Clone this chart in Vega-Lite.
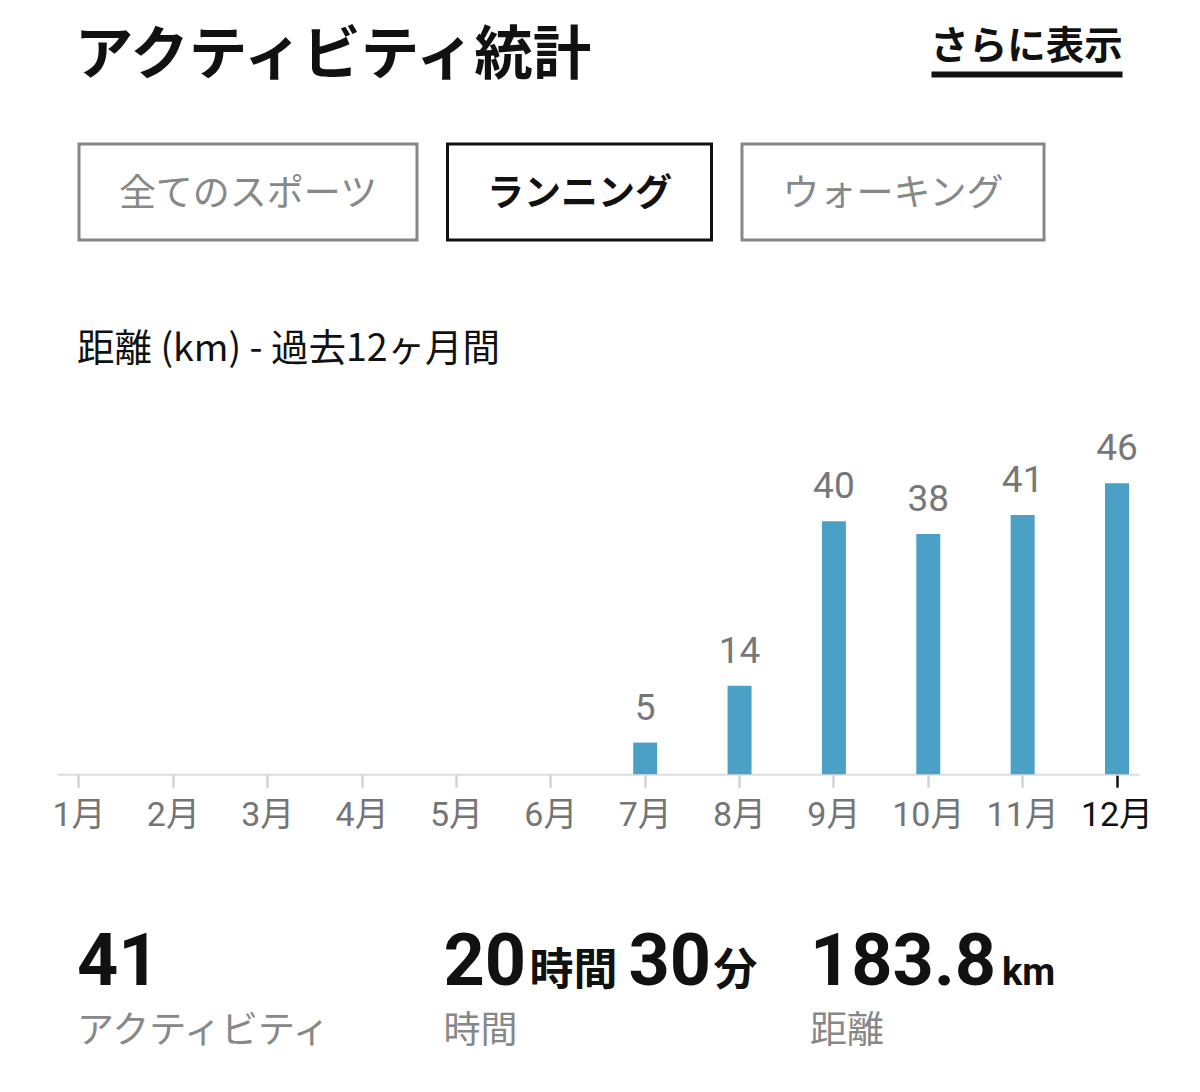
{
  "$schema": "https://vega.github.io/schema/vega-lite/v6.json",
  "background": "white",
  "padding": {"left": 51, "top": 0, "right": 0, "bottom": 30},
  "config": {"view": {"stroke": null}, "font": "Noto Sans CJK JP"},
  "spacing": 88.2,
  "vconcat": [
    {
      "spacing": 31,
      "vconcat": [
        {
          "bounds": "flush",
          "spacing": 322,
          "hconcat": [
            {
              "width": 552,
              "height": 111,
              "data": {"values": [{"label": "アクティビティ統計"}]},
              "mark": {"type": "text", "font": "Noto Sans CJK JP", "fontSize": 58.5, "fontWeight": "bold", "color": "#111111", "baseline": "middle"},
              "encoding": {"text": {"field": "label"}}
            },
            {
              "width": 191,
              "height": 74,
              "data": {"values": [{"label": "さらに表示"}]},
              "mark": {"type": "text", "font": "Noto Sans CJK JP", "fontSize": 38.5, "fontWeight": "bold", "color": "#111111", "baseline": "alphabetic", "dy": 22},
              "encoding": {
                "x": {
                  "field": "label",
                  "type": "nominal",
                  "scale": {"type": "band", "paddingInner": 0, "paddingOuter": 0},
                  "axis": {"title": null, "labels": false, "ticks": false, "grid": false, "domain": true, "domainColor": "#111111", "domainWidth": 6}
                },
                "text": {"field": "label"}
              }
            }
          ]
        },
        {
          "spacing": 19,
          "hconcat": [
            {
              "width": 1,
              "height": 96,
              "data": {"values": [{"label": ""}]},
              "mark": {"type": "text"},
              "encoding": {"text": {"field": "label"}}
            },
            {
              "bounds": "flush",
              "spacing": 30.5,
              "hconcat": [
                {
                  "width": 338,
                  "height": 96,
                  "view": {"stroke": "#878787", "strokeWidth": 3},
                  "data": {"values": [{"label": "全てのスポーツ"}]},
                  "mark": {"type": "text", "font": "Noto Sans CJK JP", "fontSize": 37, "color": "#888888", "baseline": "middle", "dy": 3},
                  "encoding": {"text": {"field": "label"}}
                },
                {
                  "width": 264,
                  "height": 96,
                  "view": {"stroke": "#111111", "strokeWidth": 3},
                  "data": {"values": [{"label": "ランニング"}]},
                  "mark": {"type": "text", "font": "Noto Sans CJK JP", "fontSize": 37, "fontWeight": "bold", "color": "#111111", "baseline": "middle", "dy": 3},
                  "encoding": {"text": {"field": "label"}}
                },
                {
                  "width": 302,
                  "height": 96,
                  "view": {"stroke": "#878787", "strokeWidth": 3},
                  "data": {"values": [{"label": "ウォーキング"}]},
                  "mark": {"type": "text", "font": "Noto Sans CJK JP", "fontSize": 37, "color": "#888888", "baseline": "middle", "dy": 3},
                  "encoding": {"text": {"field": "label"}}
                }
              ]
            }
          ]
        }
      ]
    },
    {
      "width": 1082,
      "height": 394,
      "title": {"text": "距離 (km) - 過去12ヶ月間", "anchor": "start", "frame": "group", "dx": 20, "offset": -18, "baseline": "alphabetic", "fontSize": 37.5, "fontWeight": "normal", "color": "#111111", "font": "Noto Sans CJK JP"},
      "data": {
        "values": [
          {"month": "1月", "distance": 0},
          {"month": "2月", "distance": 0},
          {"month": "3月", "distance": 0},
          {"month": "4月", "distance": 0},
          {"month": "5月", "distance": 0},
          {"month": "6月", "distance": 0},
          {"month": "7月", "distance": 5},
          {"month": "8月", "distance": 14},
          {"month": "9月", "distance": 40},
          {"month": "10月", "distance": 38},
          {"month": "11月", "distance": 41},
          {"month": "12月", "distance": 46}
        ]
      },
      "encoding": {
        "x": {
          "field": "month",
          "type": "nominal",
          "sort": null,
          "scale": {"type": "band", "paddingInner": 0.746, "paddingOuter": 0.106},
          "axis": {
            "title": null,
            "labelAngle": 0,
            "grid": false,
            "labelOverlap": false,
            "domainColor": "#dcdcdf",
            "domainWidth": 2,
            "tickSize": 13,
            "tickWidth": 2.5,
            "tickColor": {"condition": {"test": "datum.value === '12月'", "value": "#111111"}, "value": "#d3d3d6"},
            "labelColor": {"condition": {"test": "datum.value === '12月'", "value": "#111111"}, "value": "#757575"},
            "labelFont": "Roboto, Noto Sans CJK JP",
            "labelFontSize": 34,
            "labelPadding": 11
          }
        }
      },
      "layer": [
        {
          "mark": {"type": "bar", "color": "#4ba0c5"},
          "encoding": {
            "y": {"field": "distance", "type": "quantitative", "scale": {"domain": [0, 62.3], "nice": false, "zero": true}, "axis": null}
          }
        },
        {
          "transform": [{"filter": "datum.distance > 0"}],
          "mark": {"type": "text", "font": "Roboto", "fontSize": 37, "color": "#777777", "baseline": "alphabetic", "dy": -23},
          "encoding": {
            "y": {"field": "distance", "type": "quantitative"},
            "text": {"field": "distance", "type": "quantitative"}
          }
        }
      ]
    },
    {
      "width": 1119.5,
      "height": 128.6,
      "data": {
        "values": [
          {"stat": "activity", "value": "41", "caption": "アクティビティ"},
          {"stat": "time", "value": "20", "unit": "時間", "value2": "30", "unit2": "分", "caption": "時間"},
          {"stat": "distance", "value": "183.8", "unit": "km", "caption": "距離"}
        ]
      },
      "encoding": {
        "x": {
          "field": "stat",
          "type": "nominal",
          "sort": null,
          "bandPosition": 0,
          "scale": {"type": "band", "domain": ["activity", "time", "distance"], "paddingInner": 0, "paddingOuter": 0.0273, "align": 1},
          "axis": null
        }
      },
      "layer": [
        {
          "mark": {"type": "text", "font": "Roboto", "fontSize": 72, "fontWeight": "bold", "color": "#111111", "align": "left", "baseline": "alphabetic"},
          "encoding": {"text": {"field": "value"}}
        },
        {
          "transform": [{"filter": "datum.stat === 'time'"}],
          "mark": {"type": "text", "font": "Noto Sans CJK JP", "fontSize": 44, "fontWeight": "bold", "color": "#111111", "align": "left", "baseline": "alphabetic", "dx": 86},
          "encoding": {"text": {"field": "unit"}}
        },
        {
          "transform": [{"filter": "datum.stat === 'time'"}],
          "mark": {"type": "text", "font": "Roboto", "fontSize": 72, "fontWeight": "bold", "color": "#111111", "align": "left", "baseline": "alphabetic", "dx": 185},
          "encoding": {"text": {"field": "value2"}}
        },
        {
          "transform": [{"filter": "datum.stat === 'time'"}],
          "mark": {"type": "text", "font": "Noto Sans CJK JP", "fontSize": 44, "fontWeight": "bold", "color": "#111111", "align": "left", "baseline": "alphabetic", "dx": 270},
          "encoding": {"text": {"field": "unit2"}}
        },
        {
          "transform": [{"filter": "datum.stat === 'distance'"}],
          "mark": {"type": "text", "font": "Roboto", "fontSize": 38, "fontWeight": "bold", "color": "#111111", "align": "left", "baseline": "alphabetic", "dx": 192},
          "encoding": {"text": {"field": "unit"}}
        },
        {
          "mark": {"type": "text", "font": "Noto Sans CJK JP", "fontSize": 37, "color": "#888888", "align": "left", "baseline": "alphabetic", "dy": 58},
          "encoding": {"text": {"field": "caption"}}
        }
      ]
    }
  ]
}
